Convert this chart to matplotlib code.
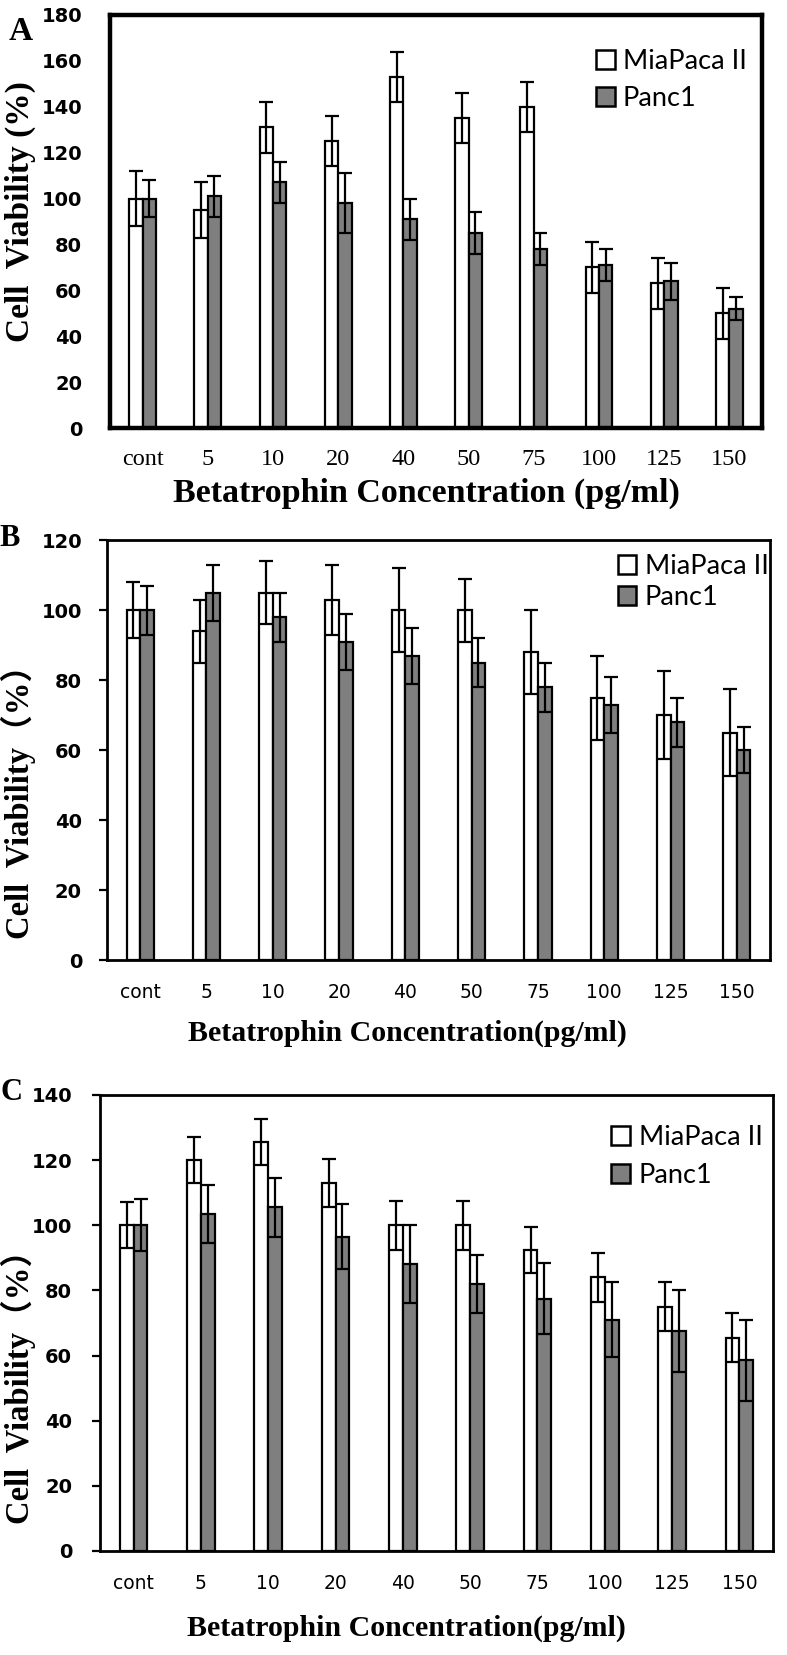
import numpy as np
import matplotlib
matplotlib.use("Agg")
import matplotlib.pyplot as plt
from matplotlib.patches import Patch

categories = ["cont", "5", "10", "20", "40", "50", "75", "100", "125", "150"]
series_names = ["MiaPaca II", "Panc1"]

# Panel A
a_mia = [100, 95, 131, 125, 153, 135, 140, 70, 63, 50]
a_mia_err = [12, 12, 11, 11, 11, 11, 11, 11, 11, 11]
a_panc = [100, 101, 107, 98, 91, 85, 78, 71, 64, 52]
a_panc_err = [8, 9, 9, 13, 9, 9, 7, 7, 8, 5]

# Panel B
b_mia = [100, 94, 105, 103, 100, 100, 88, 75, 70, 65]
b_mia_err = [8, 9, 9, 10, 12, 9, 12, 12, 12.5, 12.5]
b_panc = [100, 105, 98, 91, 87, 85, 78, 73, 68, 60]
b_panc_err = [7, 8, 7, 8, 8, 7, 7, 8, 7, 6.5]

# Panel C
c_mia = [100, 120, 125.5, 113, 100, 100, 92.5, 84, 75, 65.5]
c_mia_err = [7, 7, 7, 7.5, 7.5, 7.5, 7, 7.5, 7.5, 7.5]
c_panc = [100, 103.5, 105.5, 96.5, 88, 82, 77.5, 71, 67.5, 58.5]
c_panc_err = [8, 9, 9, 10, 12, 9, 11, 11.5, 12.5, 12.5]

W, H = 787, 1655
fig = plt.figure(figsize=(W / 100, H / 100), dpi=100)
fig.patch.set_facecolor("white")

GRAY = "#7f7f7f"
SERIF = ["Liberation Serif", "DejaVu Serif"]
SERIF_CJK = ["Liberation Serif", "Noto Sans CJK SC"]
SANS = ["Lato", "DejaVu Sans"]
WIDE_SANS = ["DejaVu Sans"]


def px_axes(l, r, t, b):
    return fig.add_axes([l / W, 1 - b / H, (r - l) / W, (b - t) / H])


def draw(ax, mia, mia_err, panc, panc_err, ymax, spine_w, ytick_len, ypad,
         xtick_font, xtick_size, xpad, leg_anchor, leg_spacing):
    x = np.arange(len(categories))
    w = 0.205
    ax.bar(x - w / 2, mia, w, color="white", edgecolor="black", linewidth=1.6, zorder=2)
    ax.bar(x + w / 2, panc, w, color=GRAY, edgecolor="black", linewidth=1.6, zorder=2)
    ax.errorbar(x - w / 2, mia, yerr=mia_err, fmt="none", ecolor="black",
                elinewidth=1.6, capsize=5, capthick=1.6, zorder=3)
    ax.errorbar(x + w / 2, panc, yerr=panc_err, fmt="none", ecolor="black",
                elinewidth=1.6, capsize=5, capthick=1.6, zorder=3)
    ax.set_xlim(-0.5, len(categories) - 0.5)
    ax.set_ylim(0, ymax)
    ax.set_yticks(np.arange(0, ymax + 1, 20))
    ax.set_xticks(x)
    ax.set_xticklabels(categories, family=xtick_font, fontsize=xtick_size)
    for lab in ax.get_yticklabels():
        lab.set_family(WIDE_SANS)
        lab.set_fontweight("bold")
        lab.set_fontsize(14)
    ax.tick_params(axis="x", length=0, pad=xpad)
    ax.tick_params(axis="y", length=ytick_len, width=1.6, pad=ypad, direction="out")
    for s in ax.spines.values():
        s.set_linewidth(spine_w)
    handles = [Patch(facecolor="white", edgecolor="black", linewidth=1.8),
               Patch(facecolor=GRAY, edgecolor="black", linewidth=1.8)]
    ax.legend(handles, series_names, loc="upper left", bbox_to_anchor=leg_anchor,
              frameon=False, prop={"family": SANS, "size": 19.5},
              handlelength=0.7, handleheight=0.7, handletextpad=0.3,
              borderpad=0, borderaxespad=0, labelspacing=leg_spacing)


axA = px_axes(110, 762, 15, 428)
draw(axA, a_mia, a_mia_err, a_panc, a_panc_err, 180, 3.2, 0, 20,
     SERIF, 17.5, 15, (0.745, 0.917), 0.42)
axB = px_axes(107, 770, 540, 960)
draw(axB, b_mia, b_mia_err, b_panc, b_panc_err, 120, 2.0, 6, 12,
     WIDE_SANS, 13.5, 16.5, (0.77, 0.966), 0.22)
axC = px_axes(100, 773, 1095, 1551)
draw(axC, c_mia, c_mia_err, c_panc, c_panc_err, 140, 2.0, 6, 14,
     WIDE_SANS, 13.5, 16.5, (0.76, 0.935), 0.5)

# Panel letters
fig.text(21 / W, 1 - 31 / H, "A", family=SERIF, fontweight="bold", fontsize=24,
         ha="center", va="center")
fig.text(10 / W, 1 - 539 / H, "B", family=SERIF, fontweight="bold", fontsize=22,
         ha="center", va="center")
fig.text(11 / W, 1 - 1092 / H, "C", family=SERIF, fontweight="bold", fontsize=22,
         ha="center", va="center")

# y labels
fig.text(20 / W, 1 - 212 / H, "Cell  Viability (%)", family=SERIF, fontweight="bold",
         fontsize=24, rotation=90, ha="center", va="center")
fig.text(18 / W, 1 - 794 / H, "Cell  Viability（%）", family=SERIF_CJK, fontweight="bold",
         fontsize=23.5, rotation=90, ha="center", va="center")
fig.text(18 / W, 1 - 1379 / H, "Cell  Viability（%）", family=SERIF_CJK, fontweight="bold",
         fontsize=23.5, rotation=90, ha="center", va="center")

# x labels
fig.text(426 / W, 1 - 493 / H, "Betatrophin Concentration (pg/ml)", family=SERIF,
         fontweight="bold", fontsize=24.5, ha="center", va="center")
fig.text(407 / W, 1 - 1033 / H, "Betatrophin Concentration(pg/ml)", family=SERIF,
         fontweight="bold", fontsize=21.5, ha="center", va="center")
fig.text(406 / W, 1 - 1628 / H, "Betatrophin Concentration(pg/ml)", family=SERIF,
         fontweight="bold", fontsize=21.5, ha="center", va="center")

fig.savefig("out.png", dpi=100, facecolor="white")
